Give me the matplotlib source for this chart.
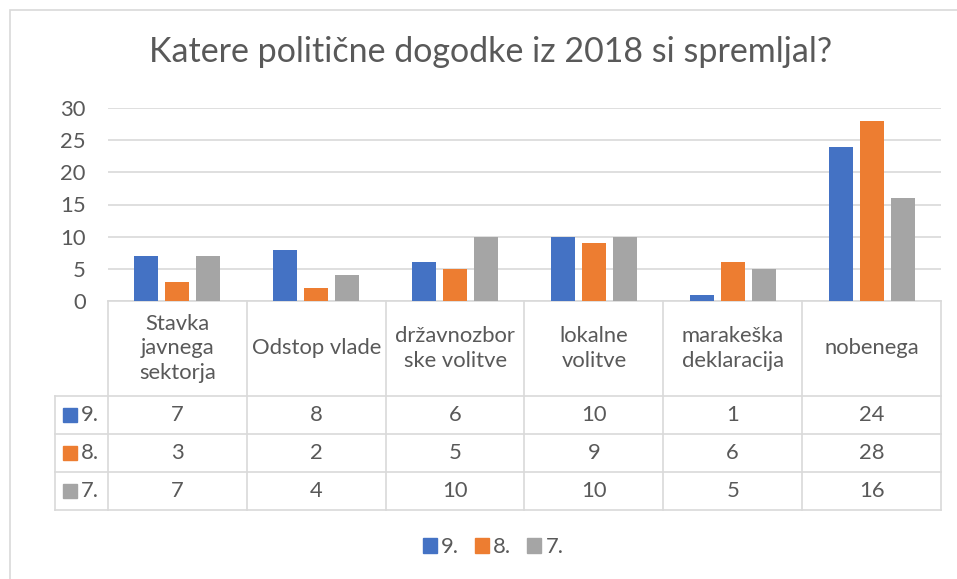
import matplotlib
matplotlib.use("Agg")
import matplotlib.pyplot as plt
import numpy as np
from matplotlib.patches import Patch, Rectangle
from matplotlib.lines import Line2D

plt.rcParams['font.family'] = ['Lato', 'DejaVu Sans']

title = "Katere politične dogodke iz 2018 si spremljal?"
categories = ["Stavka\njavnega\nsektorja", "Odstop vlade", "državnozbor\nske volitve",
              "lokalne\nvolitve", "marakeška\ndeklaracija", "nobenega"]
series_names = ["9.", "8.", "7."]
s9 = [7, 8, 6, 10, 1, 24]
s8 = [3, 2, 5, 9, 6, 28]
s7 = [7, 4, 10, 10, 5, 16]
yticks = [0, 5, 10, 15, 20, 25, 30]
colors = ["#4472C4", "#ED7D31", "#A5A5A5"]
TXT = "#595959"
GRID = "#D9D9D9"
FS = 15.8

W, H = 957, 579
fig = plt.figure(figsize=(W / 100, H / 100), dpi=100)

def fx(px):
    return px / W

def fy(py):
    return 1 - py / H

# chart border
fig.add_artist(Rectangle((fx(10), fy(600)), fx(960) - fx(10), fy(10) - fy(600),
                         transform=fig.transFigure, fill=False, edgecolor=GRID, lw=1.2))

left, right, top, bottom = 108, 941, 108, 301
ax = fig.add_axes([fx(left), fy(bottom), fx(right) - fx(left), fy(top) - fy(bottom)])
ax.set_xlim(-0.5, len(categories) - 0.5)
ax.set_ylim(0, 30)

x = np.arange(len(categories))
bw = 0.173
off = 0.223
for i, (vals, c) in enumerate(zip([s9, s8, s7], colors)):
    ax.bar(x + (i - 1) * off, vals, width=bw, color=c, zorder=3)

ax.set_yticks(yticks)
ax.yaxis.grid(True, color=GRID, lw=1.2, zorder=0)
ax.tick_params(axis='y', length=0, labelsize=FS, labelcolor=TXT, pad=16)
ax.set_xticks([])
for s in ["top", "right", "left"]:
    ax.spines[s].set_visible(False)
ax.spines["bottom"].set_color(GRID)
ax.spines["bottom"].set_linewidth(1.2)

# data table
axh = bottom - top
def ay(py):
    return -(py - bottom) / axh

trans = ax.get_xaxis_transform()
row_lines = [396, 434, 472, 510]
tbl_left_px = 55
x_left_data = -0.5 - (left - tbl_left_px) / (right - left) * len(categories)
for r in row_lines:
    ax.add_line(Line2D([x_left_data, len(categories) - 0.5], [ay(r), ay(r)], transform=trans,
                       color=GRID, lw=1.2, clip_on=False))
for b in np.arange(len(categories) + 1) - 0.5:
    ax.add_line(Line2D([b, b], [0, ay(row_lines[-1])], transform=trans,
                       color=GRID, lw=1.2, clip_on=False))
ax.add_line(Line2D([x_left_data, x_left_data], [ay(row_lines[0]), ay(row_lines[-1])],
                   transform=trans, color=GRID, lw=1.2, clip_on=False))

# header labels
for xi, cat in zip(x, categories):
    ax.text(xi, ay((bottom + row_lines[0]) / 2), cat, transform=trans, ha='center', va='center',
            fontsize=FS, color=TXT, linespacing=1.3, clip_on=False)

# rows
for ri, (vals, name, c) in enumerate(zip([s9, s8, s7], series_names, colors)):
    yc = ay((row_lines[ri] + row_lines[ri + 1]) / 2)
    for xi, v in zip(x, vals):
        ax.text(xi, yc, str(v), transform=trans, ha='center', va='center',
                fontsize=FS, color=TXT, clip_on=False)
    ycp = (row_lines[ri] + row_lines[ri + 1]) / 2
    fig.add_artist(Rectangle((fx(63), fy(ycp + 7)), fx(14), fy(ycp - 7) - fy(ycp + 7),
                             transform=fig.transFigure, color=c))
    fig.text(fx(81), fy(ycp), name, ha='left', va='center', fontsize=FS, color=TXT)

# title
fig.text(fx(491), fy(52), title, ha='center', va='center', fontsize=24.5, color=TXT)

# legend
handles = [Patch(color=c, label=n) for c, n in zip(colors, series_names)]
leg = fig.legend(handles=handles, loc='center', bbox_to_anchor=(fx(493), fy(547)), ncol=3,
                 frameon=False, fontsize=FS, handlelength=0.65, handleheight=0.65,
                 handletextpad=0.2, columnspacing=0.7)
for t in leg.get_texts():
    t.set_color(TXT)

fig.savefig("out.png", dpi=100)
